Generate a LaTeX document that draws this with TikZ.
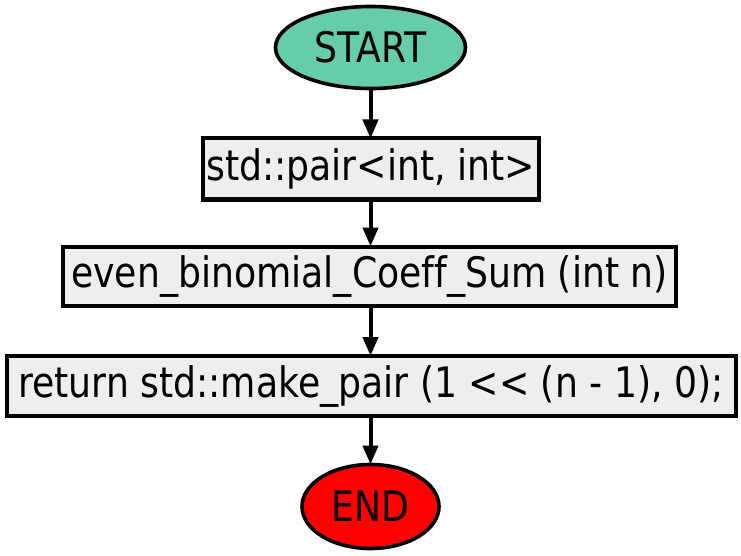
\documentclass[tikz,border=0pt]{standalone}
\usepackage{fontspec}
\setmainfont[FakeStretch=0.862,Ligatures=NoCommon]{DejaVu Sans}
\usepackage{tikz}
\usetikzlibrary{shapes.geometric, arrows.meta}

\definecolor{startgreen}{HTML}{66CDAA}
\definecolor{boxgray}{HTML}{EEEEEE}

\begin{document}
\begin{tikzpicture}[
        terminal/.style={
                ellipse, draw=black, line width=3.6pt, inner sep=0pt, outer sep=0pt,
                font=\fontsize{42}{46}\selectfont
            },
        stepbox/.style={
                rectangle, draw=black, line width=4pt, fill=boxgray,
                inner sep=0pt, outer sep=0pt,
                font=\fontsize{42}{46}\selectfont
            },
        flow/.style={
                -{Triangle[length=19pt, width=15pt]}, line width=4pt
            }
    ]
    \useasboundingbox (0,0) rectangle (741pt,-556pt);

    \node[terminal, fill=startgreen, minimum width=190pt, minimum height=82pt] (start) at (370.5pt,-47.5pt) {START};
    \node[stepbox, minimum width=336pt, minimum height=61pt] (pairtype) at (370.5pt,-169pt) {std::pair{<}int, int{>}};
    \node[stepbox, minimum width=613pt, minimum height=59pt] (func) at (369.5pt,-276pt) {even\_binomial\_Coeff\_Sum (int n)};
    \node[stepbox, minimum width=729pt, minimum height=60pt] (ret) at (371pt,-386pt) {return std::make\_pair (1 {<}{<} (n - 1), 0);};
    \node[terminal, fill=red, minimum width=137pt, minimum height=84pt] (end) at (370.5pt,-506.5pt) {END};

    % arrows between the steps
    \draw[flow] (start) -- (start |- pairtype.north);
    \draw[flow] (pairtype) -- (pairtype |- func.north);
    \draw[flow] (func.south -| pairtype) -- (pairtype |- ret.north);
    \draw[flow] (ret.south -| end) -- (end);
\end{tikzpicture}
\end{document}
